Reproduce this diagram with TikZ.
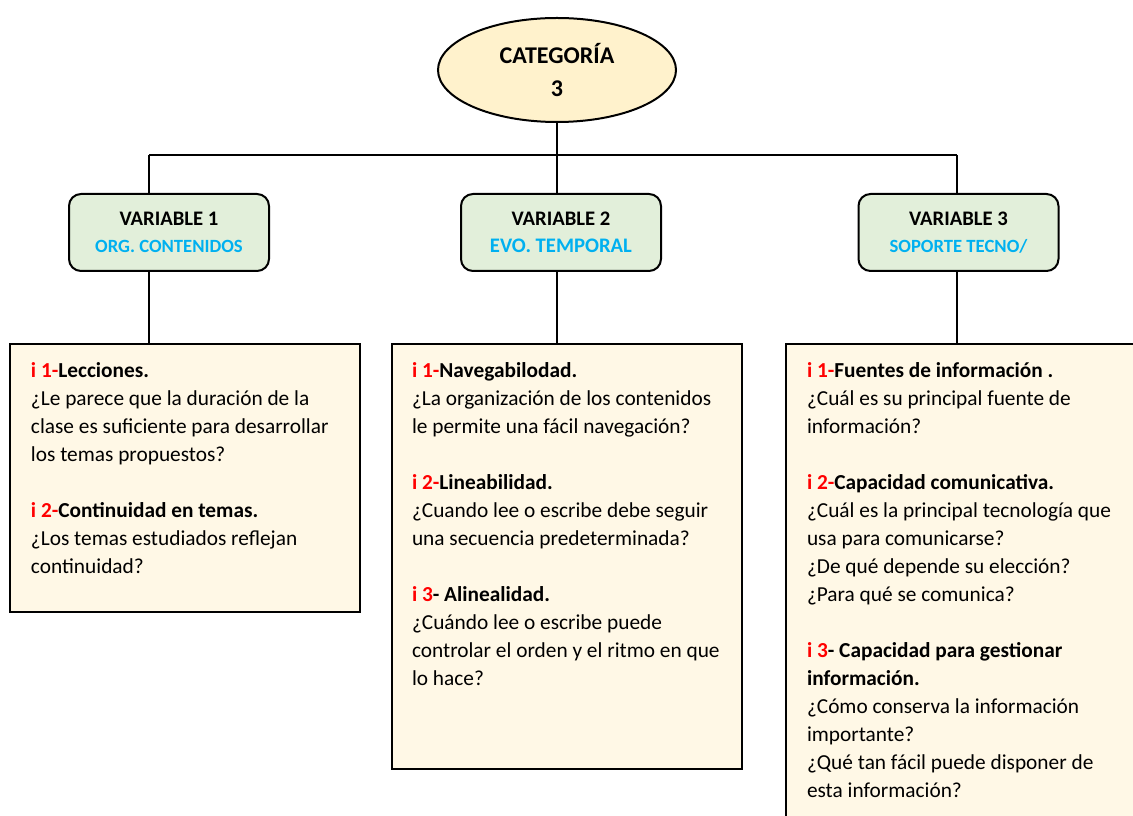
\documentclass[tikz,border=0pt]{standalone}
\usepackage{fontspec}
\setmainfont{Carlito}
\usepackage{tikz}
\usetikzlibrary{shapes,positioning}
\definecolor{catfill}{HTML}{FFF2CC}
\definecolor{varfill}{HTML}{E2EFDA}
\definecolor{qfill}{HTML}{FFF8E6}
\definecolor{varblue}{HTML}{00B0F0}
\tikzstyle{catellipse}=[ellipse, draw, line width=1.5pt, fill=catfill, align=center, minimum width=178.5pt, minimum height=78pt, font=\fontsize{18}{25}\selectfont\bfseries]
\tikzstyle{varblock}=[rectangle, rounded corners=9pt, draw, line width=1.5pt, fill=varfill, align=center, minimum width=150pt, minimum height=57.75pt, font=\fontsize{15.5}{20}\selectfont\bfseries]
\tikzstyle{qbox}=[rectangle, draw, line width=1.5pt, fill=qfill, anchor=north west]
\tikzstyle{qtext}=[anchor=north west, inner sep=0pt, align=left, font=\fontsize{16}{21}\selectfont]
\newcommand{\ind}[1]{\textbf{\color{red}#1}}

\begin{document}
\begin{tikzpicture}[x=0.75pt,y=-0.75pt, line width=1.5pt]

\useasboundingbox (0,0) rectangle (1133,816);
\fill[white] (0,0) rectangle (1133,816);
\clip (0,0) rectangle (1133,816);

\node[catellipse] (cat) at (557,70) {CATEGORÍA\\3};

\node[varblock] (v1) at (169,232.5) {VARIABLE 1\\{\fontsize{14}{20}\selectfont\color{varblue}ORG. CONTENIDOS}};
\node[varblock] (v2) at (561,232.5) {VARIABLE 2\\{\color{varblue}EVO. TEMPORAL}};
\node[varblock] (v3) at (958.5,232.5) {VARIABLE 3\\{\fontsize{14}{20}\selectfont\color{varblue}SOPORTE TECNO/}};

\node[qbox, minimum width=262.5pt, minimum height=201pt] (q1) at (9,343) {};
\node[qbox, minimum width=262.5pt, minimum height=318.75pt] (q2) at (391,343) {};
\node[qbox, minimum width=270pt, minimum height=375pt] (q3) at (785,343) {};

\coordinate (j1) at (149,155);
\coordinate (j2) at (557,155);
\coordinate (j3) at (957,155);

\draw (cat.south) -- (j2);
\draw (j1) -- (j3);
\draw (j1) -- (j1 |- v1.north);
\draw (j2) -- (j2 |- v2.north);
\draw (j3) -- (j3 |- v3.north);
\draw (j1 |- v1.south) -- (j1 |- q1.north);
\draw (j2 |- v2.south) -- (j2 |- q2.north);
\draw (j3 |- v3.south) -- (j3 |- q3.north);

\node[qtext] (t1) at (30,362) {\ind{i 1-}\textbf{Lecciones.}\\
¿Le parece que la duración de la\\
clase es suficiente para desarrollar\\
los temas propuestos?\\[21pt]
\ind{i 2-}\textbf{Continuidad en temas.}\\
¿Los temas estudiados reflejan\\
continuidad?};

\node[qtext] (t2) at (411,362) {\ind{i 1-}\textbf{Navegabilodad.}\\
¿La organización de los contenidos\\
le permite una fácil navegación?\\[21pt]
\ind{i 2-}\textbf{Lineabilidad.}\\
¿Cuando lee o escribe debe seguir\\
una secuencia predeterminada?\\[21pt]
\ind{i 3}\textbf{- Alinealidad.}\\
¿Cuándo lee o escribe puede\\
controlar el orden y el ritmo en que\\
lo hace?};

\node[qtext] (t3) at (806,362) {\ind{i 1-}\textbf{Fuentes de información .}\\
¿Cuál es su principal fuente de\\
información?\\[21pt]
\ind{i 2-}\textbf{Capacidad comunicativa.}\\
¿Cuál es la principal tecnología que\\
usa para comunicarse?\\
¿De qué depende su elección?\\
¿Para qué se comunica?\\[21pt]
\ind{i 3}\textbf{- Capacidad para gestionar}\\
\textbf{información.}\\
¿Cómo conserva la información\\
importante?\\
¿Qué tan fácil puede disponer de\\
esta información?};

\end{tikzpicture}
\end{document}
